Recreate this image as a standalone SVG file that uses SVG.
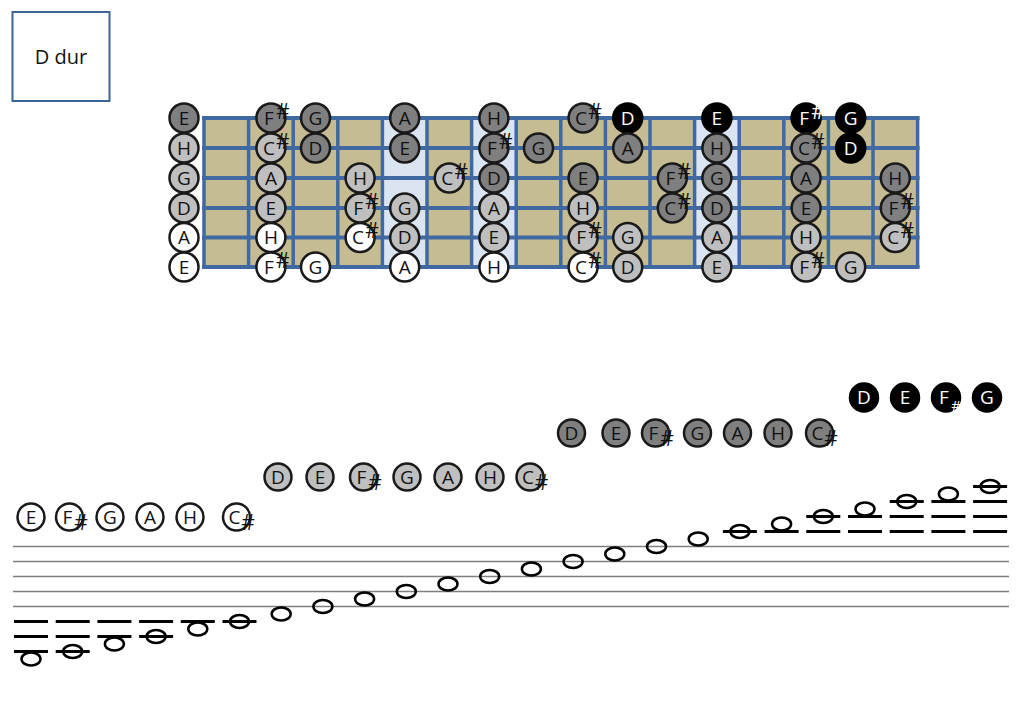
<svg xmlns="http://www.w3.org/2000/svg" width="1023" height="708" viewBox="0 0 1023 708">
<style>
text{font-family:"Open Sans","Liberation Sans",sans-serif;font-size:19px;text-anchor:middle;fill:#111}
.sh{font-size:21px}
.sk{font-size:15px}
circle{stroke:#1a1a1a;stroke-width:2.5}
.w circle{fill:#fff}
.lg circle{fill:#bfbfbf}
.dg circle{fill:#7f7f7f}
.bk circle{fill:#000;stroke:#000}
.bk text{fill:#fff}
.str{stroke:#3f69a0;stroke-width:4;fill:none;stroke-linecap:square}
.fret{stroke:#3f69a0;stroke-width:3.5;fill:none}
.staff{stroke:#7f7f7f;stroke-width:1.5;fill:none}
.led{stroke:#000;stroke-width:3;fill:none}
.note{fill:none;stroke:#000;stroke-width:2.5}
</style>
<rect width="1023" height="708" fill="#fff"/>
<g id="title">
<rect x="12.5" y="12" width="97" height="89" fill="#fff" stroke="#3d6494" stroke-width="2"/>
<text x="61" y="63.5" style="font-size:20px">D dur</text>
</g>
<g id="fretboard">
<rect x="204" y="118" width="713.6" height="149" fill="#c6bc93"/>
<rect x="382.4" y="118" width="44.6" height="149" fill="#dbe5f1"/>
<rect x="471.6" y="118" width="44.6" height="149" fill="#dbe5f1"/>
<rect x="694.6" y="118" width="44.6" height="149" fill="#dbe5f1"/>
<path class="fret" d="M204 118V267M248.6 118V267M293.2 118V267M337.8 118V267M382.4 118V267M427 118V267M471.6 118V267M516.2 118V267M560.8 118V267M605.4 118V267M650 118V267M694.6 118V267M739.2 118V267M783.8 118V267M828.4 118V267M873 118V267M917.6 118V267"/>
<path class="str" d="M204 118H917.6M204 148H917.6M204 178H917.6M204 208H917.6M204 237.5H917.6M204 267H917.6"/>
</g>
<g id="connectors"></g>
<g id="fret-notes">
<g id="s1-0" class="dg" transform="translate(184 118)"><circle r="14.5"/><text y="6.8">E</text></g>
<g id="s1-2" class="dg" transform="translate(270.9 118)"><circle r="14.5"/><text><tspan x="-2" y="6.8">F</tspan><tspan class="sh" x="12" y="0.5">#</tspan></text></g>
<g id="s1-3" class="dg" transform="translate(315.5 118)"><circle r="14.5"/><text y="6.8">G</text></g>
<g id="s1-5" class="dg" transform="translate(404.7 118)"><circle r="14.5"/><text y="6.8">A</text></g>
<g id="s1-7" class="dg" transform="translate(493.9 118)"><circle r="14.5"/><text y="6.8">H</text></g>
<g id="s1-9" class="dg" transform="translate(583.1 118)"><circle r="14.5"/><text><tspan x="-2" y="6.8">C</tspan><tspan class="sh" x="12" y="0.5">#</tspan></text></g>
<g id="s1-10" class="bk" transform="translate(627.7 118)"><circle r="14.5"/><text y="6.8">D</text></g>
<g id="s1-12" class="bk" transform="translate(716.9 118)"><circle r="14.5"/><text y="6.8">E</text></g>
<g id="s1-14" class="bk" transform="translate(806.1 118)"><circle r="14.5"/><text><tspan x="-2" y="6.8">F</tspan><tspan class="sh" x="12" y="0.5">#</tspan></text></g>
<g id="s1-15" class="bk" transform="translate(850.7 118)"><circle r="14.5"/><text y="6.8">G</text></g>

<g id="s2-0" class="lg" transform="translate(184 148)"><circle r="14.5"/><text y="6.8">H</text></g>
<g id="s2-2" class="lg" transform="translate(270.9 148)"><circle r="14.5"/><text><tspan x="-2" y="6.8">C</tspan><tspan class="sh" x="12" y="0.5">#</tspan></text></g>
<g id="s2-3" class="dg" transform="translate(315.5 148)"><circle r="14.5"/><text y="6.8">D</text></g>
<g id="s2-5" class="dg" transform="translate(404.7 148)"><circle r="14.5"/><text y="6.8">E</text></g>
<g id="s2-7" class="dg" transform="translate(493.9 148)"><circle r="14.5"/><text><tspan x="-2" y="6.8">F</tspan><tspan class="sh" x="12" y="0.5">#</tspan></text></g>
<g id="s2-8" class="dg" transform="translate(538.5 148)"><circle r="14.5"/><text y="6.8">G</text></g>
<g id="s2-10" class="dg" transform="translate(627.7 148)"><circle r="14.5"/><text y="6.8">A</text></g>
<g id="s2-12" class="dg" transform="translate(716.9 148)"><circle r="14.5"/><text y="6.8">H</text></g>
<g id="s2-14" class="dg" transform="translate(806.1 148)"><circle r="14.5"/><text><tspan x="-2" y="6.8">C</tspan><tspan class="sh" x="12" y="0.5">#</tspan></text></g>
<g id="s2-15" class="bk" transform="translate(850.7 148)"><circle r="14.5"/><text y="6.8">D</text></g>

<g id="s3-0" class="lg" transform="translate(184 178)"><circle r="14.5"/><text y="6.8">G</text></g>
<g id="s3-2" class="lg" transform="translate(270.9 178)"><circle r="14.5"/><text y="6.8">A</text></g>
<g id="s3-4" class="lg" transform="translate(360.1 178)"><circle r="14.5"/><text y="6.8">H</text></g>
<g id="s3-6" class="lg" transform="translate(449.3 178)"><circle r="14.5"/><text><tspan x="-2" y="6.8">C</tspan><tspan class="sh" x="12" y="0.5">#</tspan></text></g>
<g id="s3-7" class="dg" transform="translate(493.9 178)"><circle r="14.5"/><text y="6.8">D</text></g>
<g id="s3-9" class="dg" transform="translate(583.1 178)"><circle r="14.5"/><text y="6.8">E</text></g>
<g id="s3-11" class="dg" transform="translate(672.3 178)"><circle r="14.5"/><text><tspan x="-2" y="6.8">F</tspan><tspan class="sh" x="12" y="0.5">#</tspan></text></g>
<g id="s3-12" class="dg" transform="translate(716.9 178)"><circle r="14.5"/><text y="6.8">G</text></g>
<g id="s3-14" class="dg" transform="translate(806.1 178)"><circle r="14.5"/><text y="6.8">A</text></g>
<g id="s3-16" class="dg" transform="translate(895.3 178)"><circle r="14.5"/><text y="6.8">H</text></g>

<g id="s4-0" class="lg" transform="translate(184 208)"><circle r="14.5"/><text y="6.8">D</text></g>
<g id="s4-2" class="lg" transform="translate(270.9 208)"><circle r="14.5"/><text y="6.8">E</text></g>
<g id="s4-4" class="lg" transform="translate(360.1 208)"><circle r="14.5"/><text><tspan x="-2" y="6.8">F</tspan><tspan class="sh" x="12" y="0.5">#</tspan></text></g>
<g id="s4-5" class="lg" transform="translate(404.7 208)"><circle r="14.5"/><text y="6.8">G</text></g>
<g id="s4-7" class="lg" transform="translate(493.9 208)"><circle r="14.5"/><text y="6.8">A</text></g>
<g id="s4-9" class="lg" transform="translate(583.1 208)"><circle r="14.5"/><text y="6.8">H</text></g>
<g id="s4-11" class="dg" transform="translate(672.3 208)"><circle r="14.5"/><text><tspan x="-2" y="6.8">C</tspan><tspan class="sh" x="12" y="0.5">#</tspan></text></g>
<g id="s4-12" class="dg" transform="translate(716.9 208)"><circle r="14.5"/><text y="6.8">D</text></g>
<g id="s4-14" class="dg" transform="translate(806.1 208)"><circle r="14.5"/><text y="6.8">E</text></g>
<g id="s4-16" class="dg" transform="translate(895.3 208)"><circle r="14.5"/><text><tspan x="-2" y="6.8">F</tspan><tspan class="sh" x="12" y="0.5">#</tspan></text></g>

<g id="s5-0" class="w" transform="translate(184 237.5)"><circle r="14.5"/><text y="6.8">A</text></g>
<g id="s5-2" class="w" transform="translate(270.9 237.5)"><circle r="14.5"/><text y="6.8">H</text></g>
<g id="s5-4" class="w" transform="translate(360.1 237.5)"><circle r="14.5"/><text><tspan x="-2" y="6.8">C</tspan><tspan class="sh" x="12" y="0.5">#</tspan></text></g>
<g id="s5-5" class="lg" transform="translate(404.7 237.5)"><circle r="14.5"/><text y="6.8">D</text></g>
<g id="s5-7" class="lg" transform="translate(493.9 237.5)"><circle r="14.5"/><text y="6.8">E</text></g>
<g id="s5-9" class="lg" transform="translate(583.1 237.5)"><circle r="14.5"/><text><tspan x="-2" y="6.8">F</tspan><tspan class="sh" x="12" y="0.5">#</tspan></text></g>
<g id="s5-10" class="lg" transform="translate(627.7 237.5)"><circle r="14.5"/><text y="6.8">G</text></g>
<g id="s5-12" class="lg" transform="translate(716.9 237.5)"><circle r="14.5"/><text y="6.8">A</text></g>
<g id="s5-14" class="lg" transform="translate(806.1 237.5)"><circle r="14.5"/><text y="6.8">H</text></g>
<g id="s5-16" class="lg" transform="translate(895.3 237.5)"><circle r="14.5"/><text><tspan x="-2" y="6.8">C</tspan><tspan class="sh" x="12" y="0.5">#</tspan></text></g>

<g id="s6-0" class="w" transform="translate(184 267)"><circle r="14.5"/><text y="6.8">E</text></g>
<g id="s6-2" class="w" transform="translate(270.9 267)"><circle r="14.5"/><text><tspan x="-2" y="6.8">F</tspan><tspan class="sh" x="12" y="0.5">#</tspan></text></g>
<g id="s6-3" class="w" transform="translate(315.5 267)"><circle r="14.5"/><text y="6.8">G</text></g>
<g id="s6-5" class="w" transform="translate(404.7 267)"><circle r="14.5"/><text y="6.8">A</text></g>
<g id="s6-7" class="w" transform="translate(493.9 267)"><circle r="14.5"/><text y="6.8">H</text></g>
<g id="s6-9" class="w" transform="translate(583.1 267)"><circle r="14.5"/><text><tspan x="-2" y="6.8">C</tspan><tspan class="sh" x="12" y="0.5">#</tspan></text></g>
<g id="s6-10" class="lg" transform="translate(627.7 267)"><circle r="14.5"/><text y="6.8">D</text></g>
<g id="s6-12" class="lg" transform="translate(716.9 267)"><circle r="14.5"/><text y="6.8">E</text></g>
<g id="s6-14" class="lg" transform="translate(806.1 267)"><circle r="14.5"/><text><tspan x="-2" y="6.8">F</tspan><tspan class="sh" x="12" y="0.5">#</tspan></text></g>
<g id="s6-15" class="lg" transform="translate(850.7 267)"><circle r="14.5"/><text y="6.8">G</text></g>
</g>

<g id="scale-rows">
<g id="r1-E" class="w" transform="translate(31 517)"><circle r="13.5"/><text y="6.8">E</text></g>
<g id="r1-Fis" class="w" transform="translate(69.5 517)"><circle r="13.5"/><text><tspan x="-2" y="6.8">F</tspan><tspan class="sh" x="11.5" y="12.5">#</tspan></text></g>
<g id="r1-G" class="w" transform="translate(110 517)"><circle r="13.5"/><text y="6.8">G</text></g>
<g id="r1-A" class="w" transform="translate(150 517)"><circle r="13.5"/><text y="6.8">A</text></g>
<g id="r1-H" class="w" transform="translate(190 517)"><circle r="13.5"/><text y="6.8">H</text></g>
<g id="r1-Cis" class="w" transform="translate(236.5 517)"><circle r="13.5"/><text><tspan x="-2" y="6.8">C</tspan><tspan class="sh" x="11.5" y="12.5">#</tspan></text></g>

<g id="r2-D" class="lg" transform="translate(278 477)"><circle r="13.5"/><text y="6.8">D</text></g>
<g id="r2-E" class="lg" transform="translate(320 477)"><circle r="13.5"/><text y="6.8">E</text></g>
<g id="r2-Fis" class="lg" transform="translate(363.5 477)"><circle r="13.5"/><text><tspan x="-2" y="6.8">F</tspan><tspan class="sh" x="11.5" y="12.5">#</tspan></text></g>
<g id="r2-G" class="lg" transform="translate(407 477)"><circle r="13.5"/><text y="6.8">G</text></g>
<g id="r2-A" class="lg" transform="translate(448 477)"><circle r="13.5"/><text y="6.8">A</text></g>
<g id="r2-H" class="lg" transform="translate(490 477)"><circle r="13.5"/><text y="6.8">H</text></g>
<g id="r2-Cis" class="lg" transform="translate(530 477)"><circle r="13.5"/><text><tspan x="-2" y="6.8">C</tspan><tspan class="sh" x="11.5" y="12.5">#</tspan></text></g>

<g id="r3-D" class="dg" transform="translate(571.5 433)"><circle r="13.5"/><text y="6.8">D</text></g>
<g id="r3-E" class="dg" transform="translate(616 433)"><circle r="13.5"/><text y="6.8">E</text></g>
<g id="r3-Fis" class="dg" transform="translate(655.5 433)"><circle r="13.5"/><text><tspan x="-2" y="6.8">F</tspan><tspan class="sh" x="11.5" y="12.5">#</tspan></text></g>
<g id="r3-G" class="dg" transform="translate(697.5 433)"><circle r="13.5"/><text y="6.8">G</text></g>
<g id="r3-A" class="dg" transform="translate(737.5 433)"><circle r="13.5"/><text y="6.8">A</text></g>
<g id="r3-H" class="dg" transform="translate(778 433)"><circle r="13.5"/><text y="6.8">H</text></g>
<g id="r3-Cis" class="dg" transform="translate(819.5 433)"><circle r="13.5"/><text><tspan x="-2" y="6.8">C</tspan><tspan class="sh" x="11.5" y="12.5">#</tspan></text></g>

<g id="r4-D" class="bk" transform="translate(864 397.5)"><circle r="14"/><text y="6.8">D</text></g>
<g id="r4-E" class="bk" transform="translate(905 397.5)"><circle r="14"/><text y="6.8">E</text></g>
<g id="r4-Fis" class="bk" transform="translate(946 397.5)"><circle r="14"/><text><tspan x="-2" y="6.8">F</tspan><tspan class="sk" x="10" y="13.5">#</tspan></text></g>
<g id="r4-G" class="bk" transform="translate(987 397.5)"><circle r="14"/><text y="6.8">G</text></g>
</g>

<g id="staff">
<path class="staff" d="M13 546.5H1009M13 561.5H1009M13 576.5H1009M13 591.5H1009M13 606.5H1009"/>
<path class="led" d="M14 621.5h34M14 636.5h34M14 651.5h34M55.7 621.5h34M55.7 636.5h34M55.7 651.5h34M97.4 621.5h34M97.4 636.5h34M139.1 621.5h34M139.1 636.5h34M180.8 621.5h34M222.5 621.5h34M722.9 531.5h34M764.6 531.5h34M806.3 531.5h34M806.3 516.5h34M848 531.5h34M848 516.5h34M889.7 531.5h34M889.7 516.5h34M889.7 501.5h34M931.4 531.5h34M931.4 516.5h34M931.4 501.5h34M973.1 531.5h34M973.1 516.5h34M973.1 501.5h34M973.1 486.5h34"/>
<g id="staff-notes">
<ellipse id="n0" class="note" cx="31" cy="659" rx="9.5" ry="6.5"/>
<ellipse id="n1" class="note" cx="72.7" cy="651.5" rx="9.5" ry="6.5"/>
<ellipse id="n2" class="note" cx="114.4" cy="644" rx="9.5" ry="6.5"/>
<ellipse id="n3" class="note" cx="156.1" cy="636.5" rx="9.5" ry="6.5"/>
<ellipse id="n4" class="note" cx="197.8" cy="629" rx="9.5" ry="6.5"/>
<ellipse id="n5" class="note" cx="239.5" cy="621.5" rx="9.5" ry="6.5"/>
<ellipse id="n6" class="note" cx="281.2" cy="614" rx="9.5" ry="6.5"/>
<ellipse id="n7" class="note" cx="322.9" cy="606.5" rx="9.5" ry="6.5"/>
<ellipse id="n8" class="note" cx="364.6" cy="599" rx="9.5" ry="6.5"/>
<ellipse id="n9" class="note" cx="406.3" cy="591.5" rx="9.5" ry="6.5"/>
<ellipse id="n10" class="note" cx="448" cy="584" rx="9.5" ry="6.5"/>
<ellipse id="n11" class="note" cx="489.7" cy="576.5" rx="9.5" ry="6.5"/>
<ellipse id="n12" class="note" cx="531.4" cy="569" rx="9.5" ry="6.5"/>
<ellipse id="n13" class="note" cx="573.1" cy="561.5" rx="9.5" ry="6.5"/>
<ellipse id="n14" class="note" cx="614.8" cy="554" rx="9.5" ry="6.5"/>
<ellipse id="n15" class="note" cx="656.5" cy="546.5" rx="9.5" ry="6.5"/>
<ellipse id="n16" class="note" cx="698.2" cy="539" rx="9.5" ry="6.5"/>
<ellipse id="n17" class="note" cx="739.9" cy="531.5" rx="9.5" ry="6.5"/>
<ellipse id="n18" class="note" cx="781.6" cy="524" rx="9.5" ry="6.5"/>
<ellipse id="n19" class="note" cx="823.3" cy="516.5" rx="9.5" ry="6.5"/>
<ellipse id="n20" class="note" cx="865" cy="509" rx="9.5" ry="6.5"/>
<ellipse id="n21" class="note" cx="906.7" cy="501.5" rx="9.5" ry="6.5"/>
<ellipse id="n22" class="note" cx="948.4" cy="494" rx="9.5" ry="6.5"/>
<ellipse id="n23" class="note" cx="990.1" cy="486.5" rx="9.5" ry="6.5"/>
</g>
</g>
</svg>
